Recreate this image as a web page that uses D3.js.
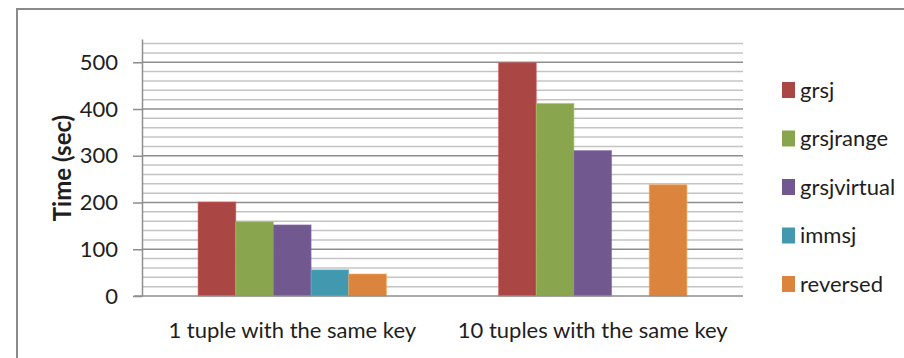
<!DOCTYPE html>
<html>
<head>
<meta charset="utf-8">
<script src="https://cdn.jsdelivr.net/npm/d3@7/dist/d3.min.js"></script>
<style>
  html, body { margin: 0; padding: 0; background: #fff; }
  svg { display: block; }
  text { font-family: Lato, "Open Sans", sans-serif; fill: #1e1e1e; }
</style>
</head>
<body>
<div id="chart"></div>
<script>
// Join timings (seconds) per workload and algorithm
const categories = ["1 tuple with the same key", "10 tuples with the same key"];
const series = ["grsj", "grsjrange", "grsjvirtual", "immsj", "reversed"];
const colors = ["#AA4643", "#89A54E", "#71588F", "#4198AF", "#DB843D"];
const grsj        = [201, 499];
const grsjrange   = [159, 412];
const grsjvirtual = [152, 311];
const immsj       = [56, null];
const reversed    = [47, 238];
const yTicks = [0, 100, 200, 300, 400, 500];
const yTitle = "Time (sec)";

const seriesValues = [grsj, grsjrange, grsjvirtual, immsj, reversed];

const W = 904, H = 358;
const plot = { left: 142, right: 743, top: 38.9, bottom: 296 };

const svg = d3.select("#chart").append("svg")
  .attr("width", W).attr("height", H);

svg.append("rect").attr("width", W).attr("height", H).attr("fill", "#fff");

// outer chart frame
svg.append("rect")
  .attr("x", 17).attr("y", 9)
  .attr("width", 2000).attr("height", 2000)
  .attr("fill", "none").attr("stroke", "#8a8a8a").attr("stroke-width", 2);

const y = d3.scaleLinear().domain([0, 550]).range([plot.bottom, plot.top]);
const x = d3.scaleBand().domain(categories).range([plot.left, plot.right]);
const xs = d3.scaleBand().domain(series).range([0, x.bandwidth()])
  .paddingInner(0).paddingOuter(1.49);

// minor and major gridlines
const minor = d3.range(20, 550, 20).filter(v => v % 100 !== 0);
const major = yTicks.filter(v => v > 0);
svg.append("g").selectAll("line").data(minor).join("line")
  .attr("x1", plot.left).attr("x2", plot.right)
  .attr("y1", d => y(d)).attr("y2", d => y(d))
  .attr("stroke", "#c4c4c4").attr("stroke-width", 1.5);
svg.append("g").selectAll("line").data(major).join("line")
  .attr("x1", plot.left).attr("x2", plot.right)
  .attr("y1", d => y(d)).attr("y2", d => y(d))
  .attr("stroke", "#8e8e8e").attr("stroke-width", 1.5);

// bars
const bars = [];
categories.forEach((c, i) => {
  series.forEach((s, j) => {
    const v = seriesValues[j][i];
    if (v != null) bars.push({ c, s, v, color: colors[j] });
  });
});
svg.append("g").selectAll("rect").data(bars).join("rect")
  .attr("x", d => x(d.c) + xs(d.s))
  .attr("y", d => y(d.v))
  .attr("width", xs.bandwidth())
  .attr("height", d => y(0) - y(d.v))
  .attr("fill", d => d.color)
  .attr("stroke", d => d3.color(d.color).brighter(0.6))
  .attr("stroke-opacity", 0.6)
  .attr("stroke-width", 1);

// y axis
const yAxis = svg.append("g")
  .attr("transform", `translate(${plot.left},0)`)
  .call(d3.axisLeft(y).tickValues(yTicks).tickSize(9).tickPadding(15).tickSizeOuter(0));
yAxis.select(".domain").attr("stroke", "#8e8e8e").attr("stroke-width", 1.5);
yAxis.selectAll(".tick line").attr("stroke", "#8e8e8e").attr("stroke-width", 1.5);
yAxis.selectAll(".tick text")
  .attr("font-size", 22).attr("font-family", "Lato").attr("fill", "#1e1e1e");

// x baseline
svg.append("line")
  .attr("x1", plot.left - 8).attr("x2", plot.right)
  .attr("y1", y(0)).attr("y2", y(0))
  .attr("stroke", "#8e8e8e").attr("stroke-width", 1.5);

// category labels
svg.append("g").selectAll("text").data(categories).join("text")
  .attr("x", d => x(d) + x.bandwidth() / 2)
  .attr("y", 338)
  .attr("text-anchor", "middle")
  .attr("font-size", 22)
  .text(d => d);

// y axis title
svg.append("text")
  .attr("transform", "translate(71,168) rotate(-90)")
  .attr("text-anchor", "middle")
  .attr("font-size", 24)
  .attr("font-weight", "bold")
  .text(yTitle);

// legend
const legend = svg.append("g").selectAll("g").data(series).join("g")
  .attr("transform", (d, i) => `translate(782,${90 + i * 48.5})`);
legend.append("rect")
  .attr("x", 0).attr("y", -8).attr("width", 13).attr("height", 16)
  .attr("fill", (d, i) => colors[i]);
legend.append("text")
  .attr("x", 18).attr("y", 0).attr("dy", "0.35em")
  .attr("font-size", 22)
  .text(d => d);
</script>
</body>
</html>
